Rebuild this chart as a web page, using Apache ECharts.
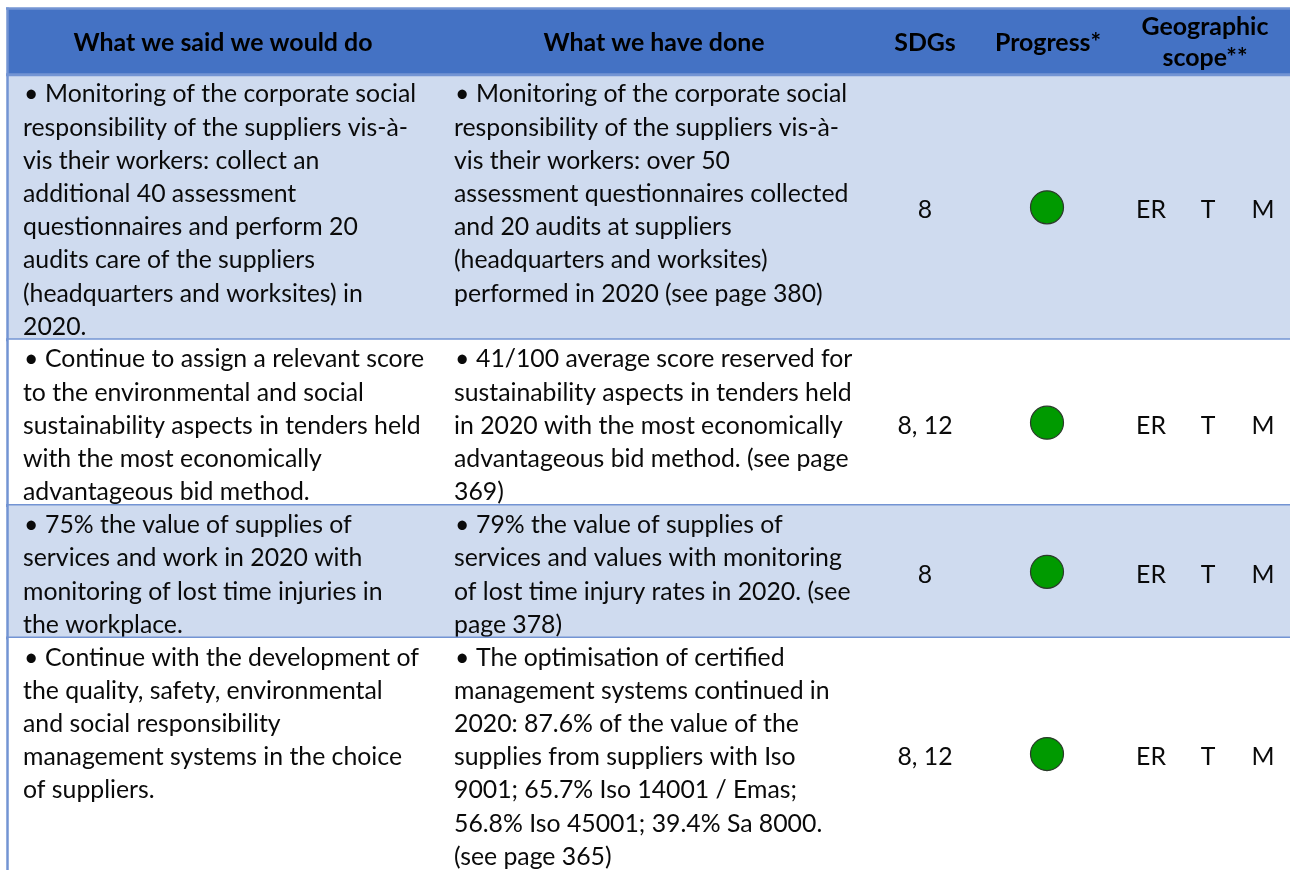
<!DOCTYPE html>
<html>
<head>
<meta charset="utf-8">
<script src="https://cdn.jsdelivr.net/npm/echarts@6/dist/echarts.min.js"></script>
<style>
html,body{margin:0;padding:0;background:#fff;}
#chart{width:1290px;height:870px;}
</style>
</head>
<body>
<div id="chart"></div>
<script>
// ---------- DATA ----------
const headers = ['What we said we would do', 'What we have done', 'SDGs', 'Progress*', 'Geographic\nscope**'];

const commitments = [
  'Monitoring of the corporate social\nresponsibility of the suppliers vis-à-\nvis their workers: collect an\nadditional 40 assessment\nquestionnaires and perform 20\naudits care of the suppliers\n(headquarters and worksites) in\n2020.',
  'Continue to assign a relevant score\nto the environmental and social\nsustainability aspects in tenders held\nwith the most economically\nadvantageous bid method.',
  '75% the value of supplies of\nservices and work in 2020 with\nmonitoring of lost time injuries in\nthe workplace.',
  'Continue with the development of\nthe quality, safety, environmental\nand social responsibility\nmanagement systems in the choice\nof suppliers.'
];

const achievements = [
  'Monitoring of the corporate social\nresponsibility of the suppliers vis-à-\nvis their workers: over 50\nassessment questionnaires collected\nand 20 audits at suppliers\n(headquarters and worksites)\nperformed in 2020 (see page 380)',
  '41/100 average score reserved for\nsustainability aspects in tenders held\nin 2020 with the most economically\nadvantageous bid method. (see page\n369)',
  '79% the value of supplies of\nservices and values with monitoring\nof lost time injury rates in 2020. (see\npage 378)',
  'The optimisation of certified\nmanagement systems continued in\n2020: 87.6% of the value of the\nsupplies from suppliers with Iso\n9001; 65.7% Iso 14001 / Emas;\n56.8% Iso 45001; 39.4% Sa 8000.\n(see page 365)'
];

const sdgs = ['8', '8, 12', '8', '8, 12'];
const progress = ['achieved', 'achieved', 'achieved', 'achieved'];
const scopes = [['ER', 'T', 'M'], ['ER', 'T', 'M'], ['ER', 'T', 'M'], ['ER', 'T', 'M']];

// ---------- LAYOUT / STYLE ----------
const LINE = 33.2;           // px per text line (y-axis unit)
const HEADER_UNITS = 2;
const BULLET = '•';
const layout = {
  tableLeft: 8, tableRight: 1290,
  col1Text: 23, col2Text: 454, bulletIndent: 22,
  headerCenters: [223, 654, 925, 1048, 1205],
  sdgCenter: 925, progressCenter: 1047, scopeCenters: [1151, 1208, 1263]
};
const colors = {
  header: '#4472C4', band: '#CFDBEF', border: '#7394D3', text: '#0a0a0a', dot: '#009A00', dotStroke: '#2b3b2b'
};
const FONT = 'Lato';

// font sizes calibrated so that reference lines reach their measured widths
function fitSize(weight, sample, target) {
  const ctx = document.createElement('canvas').getContext('2d');
  ctx.font = weight + ' 100px ' + FONT;
  return 100 * target / ctx.measureText(sample).width;
}
const BODY_SIZE = Math.round(fitSize('normal', 'the quality, safety, environmental', 360) * 10) / 10;
const HEAD_SIZE = Math.round(fitSize('bold', 'What we said we would do', 299) * 10) / 10;

// row sizes in line units, derived from text line counts
const rowUnits = commitments.map((c, i) => Math.max(c.split('\n').length, achievements[i].split('\n').length));
const rowStart = [];
let acc = HEADER_UNITS;
rowUnits.forEach(u => { rowStart.push(acc); acc += u; });
const totalUnits = acc;

const chart = echarts.init(document.getElementById('chart'), null, {renderer: 'canvas'});

function headerItem(params, api) {
  const top = api.coord([0, 0])[1];
  const bottom = api.coord([0, HEADER_UNITS])[1];
  const mid = (top + bottom) / 2;
  const xl = api.coord([layout.tableLeft, 0])[0];
  const xr = api.coord([layout.tableRight, 0])[0];
  const children = [
    {type: 'rect', shape: {x: xl, y: top, width: xr - xl, height: bottom - top}, style: {fill: colors.header}},
    {type: 'line', shape: {x1: xl - 2, y1: top, x2: xr, y2: top}, style: {stroke: colors.border, lineWidth: 2.5}},
    {type: 'line', shape: {x1: xl - 2, y1: bottom, x2: xr, y2: bottom}, style: {stroke: colors.border, lineWidth: 3}}
  ];
  headers.forEach((h, k) => {
    children.push({
      type: 'text',
      style: {
        x: api.coord([layout.headerCenters[k], 0])[0], y: mid + 1,
        text: h, fill: '#000', font: 'bold ' + HEAD_SIZE + 'px ' + FONT,
        align: 'center', verticalAlign: 'middle', lineHeight: 31
      }
    });
  });
  return {type: 'group', children: children};
}

function bulletText(api, xLeft, top, str, font) {
  // first line gets a bullet and hanging gap; following lines flush left
  const lines = str.split('\n');
  const x = api.coord([xLeft, 0])[0];
  return [
    {type: 'text', style: {x: x + 1, y: top + 3, text: BULLET, fill: colors.text, font: font, lineHeight: LINE, verticalAlign: 'top', align: 'left'}},
    {type: 'text', style: {x: x + layout.bulletIndent, y: top + 3, text: lines[0], fill: colors.text, font: font, lineHeight: LINE, verticalAlign: 'top', align: 'left'}},
    {type: 'text', style: {x: x, y: top + 3 + LINE, text: lines.slice(1).join('\n'), fill: colors.text, font: font, lineHeight: LINE, verticalAlign: 'top', align: 'left'}}
  ];
}

function rowItem(params, api) {
  const i = api.value(0);
  const top = api.coord([0, rowStart[i]])[1];
  const bottom = api.coord([0, rowStart[i] + rowUnits[i]])[1];
  const mid = (top + bottom) / 2;
  const xl = api.coord([layout.tableLeft, 0])[0];
  const xr = api.coord([layout.tableRight, 0])[0];
  const bodyFont = BODY_SIZE + 'px ' + FONT;
  let children = [
    {type: 'rect', shape: {x: xl, y: top, width: xr - xl, height: bottom - top}, style: {fill: i % 2 === 0 ? colors.band : '#ffffff'}}
  ];
  children = children.concat(bulletText(api, layout.col1Text, top, commitments[i], bodyFont));
  children = children.concat(bulletText(api, layout.col2Text, top, achievements[i], bodyFont));
  children.push({type: 'text', style: {x: api.coord([layout.sdgCenter, 0])[0], y: mid + 3, text: sdgs[i], fill: colors.text, font: bodyFont, align: 'center', verticalAlign: 'middle'}});
  if (progress[i] === 'achieved') {
    children.push({type: 'circle', shape: {cx: api.coord([layout.progressCenter, 0])[0], cy: mid, r: 16.5}, style: {fill: colors.dot, stroke: colors.dotStroke, lineWidth: 1.2}});
  }
  scopes[i].forEach((s, k) => {
    children.push({type: 'text', style: {x: api.coord([layout.scopeCenters[k], 0])[0], y: mid + 3, text: s, fill: colors.text, font: bodyFont, align: 'center', verticalAlign: 'middle'}});
  });
  if (i < rowUnits.length - 1) {
    children.push({type: 'line', shape: {x1: xl - 2, y1: bottom, x2: xr, y2: bottom}, style: {stroke: colors.border, lineWidth: 3}});
  }
  return {type: 'group', children: children};
}

function leftBorder(params, api) {
  const top = api.coord([0, 0])[1];
  const bottom = api.coord([0, totalUnits])[1];
  const x = api.coord([layout.tableLeft, 0])[0] - 0.5;
  return {type: 'line', shape: {x1: x, y1: top - 1, x2: x, y2: bottom}, style: {stroke: colors.border, lineWidth: 2.5}, z2: 10};
}

chart.setOption({
  backgroundColor: '#ffffff',
  animation: false,
  grid: {left: 0, right: 0, top: 8.5, bottom: 870 - 8.5 - totalUnits * LINE},
  xAxis: {type: 'value', min: 0, max: 1290, show: false},
  yAxis: {type: 'value', min: 0, max: totalUnits, inverse: true, show: false},
  tooltip: {show: false},
  series: [
    {type: 'custom', renderItem: rowItem, data: rowUnits.map((u, i) => [i]), clip: false, silent: true},
    {type: 'custom', renderItem: headerItem, data: [[0]], clip: false, silent: true, z: 3},
    {type: 'custom', renderItem: leftBorder, data: [[0]], clip: false, silent: true, z: 4}
  ]
});
</script>
</body>
</html>
